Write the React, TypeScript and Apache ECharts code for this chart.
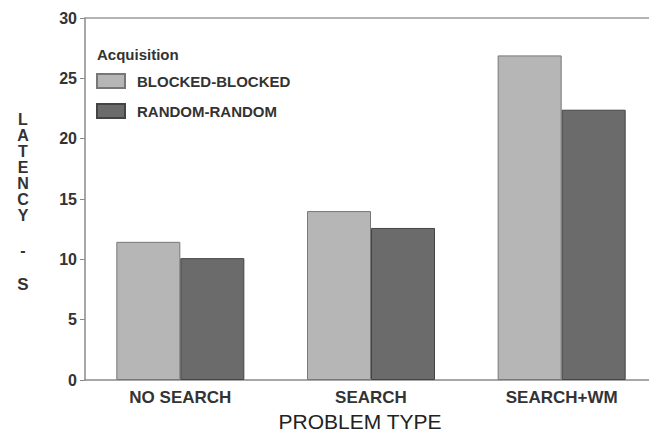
import React, { useEffect, useRef } from "react";
import * as echarts from "echarts";

const categories = ["NO SEARCH", "SEARCH", "SEARCH+WM"];
const blockedBlocked = [11.45, 14.0, 26.9];
const randomRandom = [10.1, 12.6, 22.4];
const seriesNames = ["BLOCKED-BLOCKED", "RANDOM-RANDOM"];
const yTicks = { min: 0, max: 30, interval: 5 };

const FONT = "'Liberation Sans', Arial, Helvetica, sans-serif";

export default function App() {
  const ref = useRef<HTMLDivElement>(null);
  useEffect(() => {
    if (!ref.current) return;
    const chart = echarts.init(ref.current, null, { renderer: "svg" });
    const vText = (text: string, x: number, y: number, size: number, va: string, lh?: number) => ({
      type: "text",
      x,
      y,
      style: {
        text,
        fontFamily: FONT,
        fontSize: size,
        fontWeight: "bold",
        fill: "#333",
        align: "center",
        verticalAlign: va,
        lineHeight: lh,
      },
    });
    chart.setOption({
      animation: false,
      backgroundColor: "#ffffff",
      textStyle: { fontFamily: FONT },
      grid: { left: 85, right: -8, top: 18, bottom: 53, outerBoundsMode: "none", containLabel: false },
      legend: {
        orient: "vertical",
        left: 96,
        top: 73,
        padding: 0,
        itemWidth: 28,
        itemHeight: 14,
        itemGap: 14,
        icon: "rect",
        data: seriesNames,
        textStyle: { fontSize: 15, fontWeight: "bold", color: "#333", fontFamily: FONT, padding: [0, 0, 0, 7] },
      },
      xAxis: [
        {
          type: "category",
          data: categories,
          position: "bottom",
          axisLine: { lineStyle: { color: "#8a8a8a", width: 1.5 } },
          axisTick: { alignWithLabel: true, length: 6, lineStyle: { color: "#8a8a8a" } },
          axisLabel: { fontSize: 17, fontWeight: "bold", color: "#333", margin: 9, fontFamily: FONT },
        },
        {
          type: "category",
          data: categories,
          position: "top",
          axisLine: { lineStyle: { color: "#9a9a9a", width: 1.5 } },
          axisTick: { show: false },
          axisLabel: { show: false },
        },
      ],
      yAxis: {
        type: "value",
        min: yTicks.min,
        max: yTicks.max,
        interval: yTicks.interval,
        axisLine: { show: true, lineStyle: { color: "#8a8a8a", width: 1.5 } },
        axisTick: { show: true, length: 5, lineStyle: { color: "#8a8a8a" } },
        splitLine: { show: false },
        axisLabel: { fontSize: 16, fontWeight: "bold", color: "#333", margin: 8, fontFamily: FONT },
      },
      series: [
        {
          name: seriesNames[0],
          type: "bar",
          data: blockedBlocked,
          barWidth: 64,
          barGap: "0%",
          itemStyle: { color: "#b6b6b6", borderColor: "#777", borderWidth: 1 },
        },
        {
          name: seriesNames[1],
          type: "bar",
          data: randomRandom,
          barWidth: 64,
          barGap: "0%",
          itemStyle: { color: "#6b6b6b", borderColor: "#444", borderWidth: 1 },
        },
      ],
      graphic: [
        {
          type: "text",
          left: 97,
          top: 47,
          style: { text: "Acquisition", fontFamily: FONT, fontSize: 15, fontWeight: "bold", fill: "#333" },
        },
        vText("L\nA\nT\nE\nN\nC\nY", 23, 111, 16, "top", 16),
        vText("-", 23, 250, 16, "middle"),
        vText("S", 23, 284, 17, "middle"),
        {
          type: "text",
          x: 360,
          y: 421,
          style: {
            text: "PROBLEM TYPE",
            fontFamily: FONT,
            fontSize: 21,
            fill: "#222",
            align: "center",
            verticalAlign: "middle",
          },
        },
      ],
    });
    return () => chart.dispose();
  }, []);
  return <div ref={ref} style={{ position: "absolute", left: 0, top: 0, width: 649, height: 433 }} />;
}
